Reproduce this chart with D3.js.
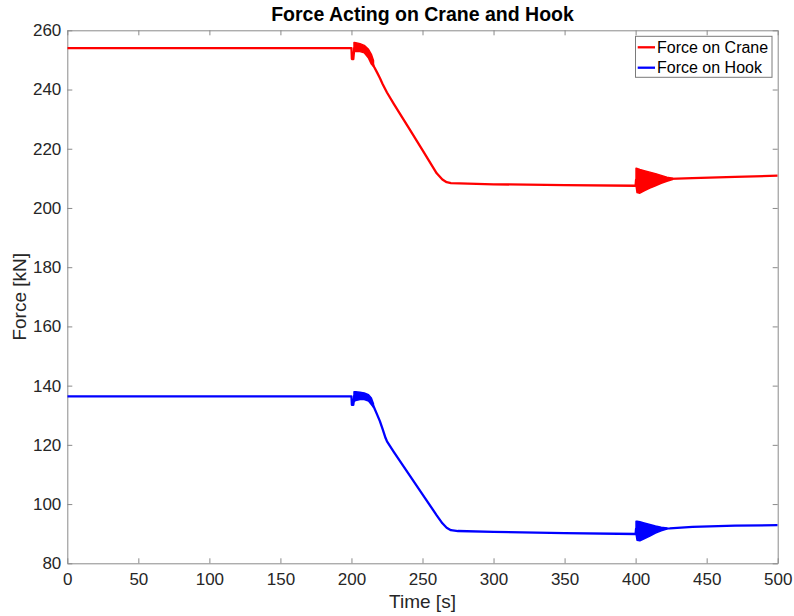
<!DOCTYPE html>
<html>
<head>
<meta charset="utf-8">
<script src="https://cdn.jsdelivr.net/npm/d3@7"></script>
<style>
  body { margin: 0; background: #fff; }
  svg { display: block; font-family: "Liberation Sans", Arial, Helvetica, sans-serif; }
</style>
</head>
<body>
<svg id="chart" width="794" height="616"></svg>
<script>
// Time samples [s] and force readings [kN] for the crane (red) and hook (blue)
const craneTime  = [0, 200, 200.3, 201.3, 202, 205, 208, 210, 212, 214, 216, 218, 220, 222, 225, 230, 240, 250, 260, 264, 267, 270, 300, 350, 400, 400.3, 424, 440, 470, 500];
const craneForce = [254, 254, 250.3, 250.3, 254, 254, 253.8, 253, 251.5, 249.6, 247.6, 245.8, 243.9, 241.8, 239, 235, 227.3, 219.5, 211.7, 209.6, 208.7, 208.4, 208, 207.7, 207.5, 209.5, 209.8, 210.1, 210.5, 210.9];

const hookTime  = [0, 200, 200.3, 201.3, 202, 205, 209, 212, 214, 216, 218, 220, 222, 224, 225, 230, 240, 250, 260, 264, 267, 270, 275, 300, 350, 400, 400.3, 424, 440, 470, 500];
const hookForce = [136.4, 136.4, 133.5, 133.5, 136.5, 136.5, 136.3, 135.8, 134.6, 132.5, 130.3, 128, 125.2, 122.3, 121.2, 117.5, 110.4, 103.3, 96.2, 93.5, 92, 91.2, 90.9, 90.6, 90.2, 89.9, 91.6, 91.8, 92.3, 92.7, 92.9];

// Envelopes of the fast oscillations after each load change
const craneBand1Time  = [201.8, 203, 206, 209, 212, 214, 215.5];
const craneBand1Upper = [255.9, 255.8, 255.5, 254.9, 253.6, 251.9, 249.8];
const craneBand1Lower = [253.0, 252.8, 252.8, 252.4, 250.6, 248.6, 247.8];

const craneBand2Time  = [400.3, 401, 403, 406, 410, 414, 418, 422, 426];
const craneBand2Upper = [213.4, 213.3, 213.0, 212.6, 212.1, 211.6, 211.0, 210.4, 210.0];
const craneBand2Lower = [207.5, 205.2, 205.0, 205.8, 206.7, 207.5, 208.3, 209.0, 209.6];

const hookBand1Time  = [201.8, 203, 206, 209, 212, 214, 215.5];
const hookBand1Upper = [137.9, 137.9, 137.8, 137.5, 136.9, 135.8, 133.9];
const hookBand1Lower = [134.6, 135.0, 135.3, 135.3, 134.8, 133.6, 132.7];

const hookBand2Time  = [400.3, 401, 403, 406, 410, 414, 418, 422];
const hookBand2Upper = [94.2, 94.2, 94.0, 93.6, 93.1, 92.6, 92.2, 91.9];
const hookBand2Lower = [89.9, 87.8, 87.6, 88.3, 89.2, 90.2, 91.0, 91.6];

const xTicks = [0, 50, 100, 150, 200, 250, 300, 350, 400, 450, 500];
const yTicks = [80, 100, 120, 140, 160, 180, 200, 220, 240, 260];

const seriesNames = ["Force on Crane", "Force on Hook"];
const seriesColors = ["#ff0000", "#0000ff"];

const titleText = "Force Acting on Crane and Hook";
const xLabel = "Time [s]";
const yLabel = "Force [kN]";

const svg = d3.select("#chart");
const plot = { left: 67.3, right: 777.7, top: 30.3, bottom: 563.3 };

const x = d3.scaleLinear().domain([0, 500]).range([plot.left, plot.right]);
const y = d3.scaleLinear().domain([80, 260]).range([plot.bottom, plot.top]);

svg.append("defs").append("clipPath").attr("id", "plotClip")
  .append("rect")
  .attr("x", plot.left).attr("y", plot.top)
  .attr("width", plot.right - plot.left).attr("height", plot.bottom - plot.top);

const tickLen = 5;
const axisColor = "#8a8a8a";
const textColor = "#262626";

// Axes: bottom/left with labels, top/right as a plain box with inward ticks
const bottomAxis = d3.axisBottom(x).tickValues(xTicks).tickSizeInner(-tickLen).tickSizeOuter(0).tickPadding(10);
const leftAxis = d3.axisLeft(y).tickValues(yTicks).tickSizeInner(-tickLen).tickSizeOuter(0).tickPadding(6);
const topAxis = d3.axisTop(x).tickValues(xTicks).tickSizeInner(-tickLen).tickSizeOuter(0).tickFormat("");
const rightAxis = d3.axisRight(y).tickValues(yTicks).tickSizeInner(-tickLen).tickSizeOuter(0).tickFormat("");

function styleAxis(g) {
  g.select(".domain").attr("stroke", axisColor).attr("stroke-width", 1);
  g.selectAll(".tick line").attr("stroke", axisColor).attr("stroke-width", 1);
  g.selectAll(".tick text").attr("fill", textColor).style("font-size", "17px")
    .style("font-family", '"Liberation Sans", Arial, Helvetica, sans-serif');
}

svg.append("g").attr("transform", `translate(0,${plot.bottom})`).call(bottomAxis).call(styleAxis);
svg.append("g").attr("transform", `translate(${plot.left},0)`).call(leftAxis).call(styleAxis);
svg.append("g").attr("transform", `translate(0,${plot.top})`).call(topAxis).call(styleAxis);
svg.append("g").attr("transform", `translate(${plot.right},0)`).call(rightAxis).call(styleAxis);

// Series
const layer = svg.append("g").attr("clip-path", "url(#plotClip)");

const line = d3.line().x(d => x(d[0])).y(d => y(d[1]));
const area = d3.area().x(d => x(d[0])).y0(d => y(d[2])).y1(d => y(d[1]));

function band(t, up, lo) { return t.map((v, i) => [v, up[i], lo[i]]); }

const series = [
  { t: craneTime, f: craneForce, bands: [band(craneBand1Time, craneBand1Upper, craneBand1Lower), band(craneBand2Time, craneBand2Upper, craneBand2Lower)] },
  { t: hookTime, f: hookForce, bands: [band(hookBand1Time, hookBand1Upper, hookBand1Lower), band(hookBand2Time, hookBand2Upper, hookBand2Lower)] }
];

series.forEach((s, i) => {
  const color = seriesColors[i];
  s.bands.forEach(b => {
    layer.append("path").attr("d", area(b))
      .attr("fill", color).attr("stroke", color).attr("stroke-width", 1.5)
      .attr("stroke-linejoin", "round");
  });
  layer.append("path").attr("d", line(s.t.map((v, k) => [v, s.f[k]])))
    .attr("fill", "none").attr("stroke", color).attr("stroke-width", 2.3)
    .attr("stroke-linejoin", "round");
});

// Title and axis labels
svg.append("text").attr("x", (plot.left + plot.right) / 2).attr("y", 21)
  .attr("text-anchor", "middle").attr("font-weight", "bold").attr("fill", "#000")
  .style("font-size", "19.5px").text(titleText);

svg.append("text").attr("x", (plot.left + plot.right) / 2).attr("y", 608)
  .attr("text-anchor", "middle").attr("fill", textColor)
  .style("font-size", "19px").text(xLabel);

svg.append("text").attr("transform", `translate(26,${(plot.top + plot.bottom) / 2}) rotate(-90)`)
  .attr("text-anchor", "middle").attr("fill", textColor)
  .style("font-size", "19px").text(yLabel);

// Legend
const legend = svg.append("g");
legend.append("rect").attr("x", 635.5).attr("y", 36.3).attr("width", 136.5).attr("height", 41)
  .attr("fill", "#fff").attr("stroke", "#7a7a7a").attr("stroke-width", 1);
seriesNames.forEach((name, i) => {
  const cy = 47.3 + i * 20.4;
  legend.append("line").attr("x1", 637.7).attr("x2", 655).attr("y1", cy).attr("y2", cy)
    .attr("stroke", seriesColors[i]).attr("stroke-width", 2.3);
  legend.append("text").attr("x", 657).attr("y", cy + 5.6).attr("fill", "#000")
    .style("font-size", "16px").text(name);
});
</script>
</body>
</html>
